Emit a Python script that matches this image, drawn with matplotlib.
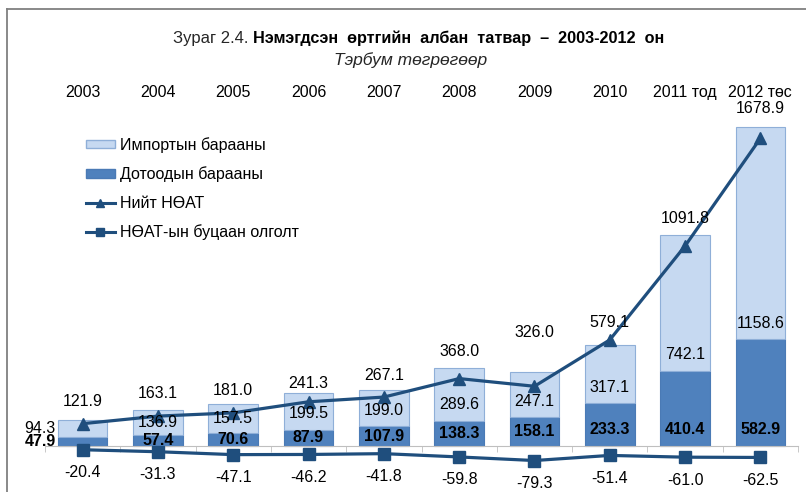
import numpy as np
import matplotlib.pyplot as plt
from matplotlib.patches import Patch
from matplotlib.lines import Line2D

plt.rcParams['font.family'] = ['Liberation Sans', 'DejaVu Sans']

years = ['2003', '2004', '2005', '2006', '2007', '2008', '2009', '2010', '2011 тод', '2012 төс']
domestic = [47.9, 57.4, 70.6, 87.9, 107.9, 138.3, 158.1, 233.3, 410.4, 582.9]
imports = [94.3, 136.9, 157.5, 199.5, 199.0, 289.6, 247.1, 317.1, 742.1, 1158.6]
total = [121.9, 163.1, 181.0, 241.3, 267.1, 368.0, 326.0, 579.1, 1091.8, 1678.9]
refund = [-20.4, -31.3, -47.1, -46.2, -41.8, -59.8, -79.3, -51.4, -61.0, -62.5]

c_light = '#C6D9F1'
c_light_edge = '#8FAFD8'
c_dark = '#4F81BD'
c_dark_edge = '#4A7AB5'
c_line = '#1F4E7D'
fs = 11.5

W, H = 806, 492
top_px = 108
fig = plt.figure(figsize=(W / 100, H / 100), dpi=100)
ax = fig.add_axes([45 / W, 0, 753 / W, (H - top_px) / H])
ppu = 0.1832  # pixels per data unit
ymin = -46 / ppu
ymax = ymin + (H - top_px) / ppu
ax.set_xlim(-0.5, 9.5)
ax.set_ylim(ymin, ymax)

x = np.arange(len(years))
bw = 0.66
dom = np.array(domestic)
imp = np.array(imports)
ax.bar(x, dom, bw, color=c_dark, edgecolor=c_dark_edge, linewidth=0.8, zorder=2)
ax.bar(x, imp, bw, bottom=dom, color=c_light, edgecolor=c_light_edge, linewidth=0.8, zorder=2)
ax.plot(x, total, color=c_line, lw=2.3, marker='^', ms=8, zorder=3)
ax.plot(x, refund, color=c_line, lw=2.3, marker='s', ms=8, zorder=3)

cap = 16 / ppu
for i in x:
    yd = min(dom[i] / 2, cap)
    yi = dom[i] + min(imp[i] / 2, cap)
    if i == 0:
        xl, ha = i - bw / 2 - 0.03, 'right'
    else:
        xl, ha = i, 'center'
    ax.text(xl, yd, f'{dom[i]:.1f}', ha=ha, va='center', fontsize=fs,
            fontweight='bold', zorder=4)
    ax.text(xl, yi, f'{imp[i]:.1f}', ha=ha, va='center', fontsize=fs, zorder=4)

tot_pad = [18, 17, 14, 10, 14, 16, 39, 23, 16, 18]
for i in x:
    ax.annotate(f'{total[i]:.1f}', (i, dom[i] + imp[i]), xytext=(0, tot_pad[i]),
                textcoords='offset pixels', ha='center', va='center', fontsize=fs)
    ax.annotate(f'{refund[i]:.1f}', (i, refund[i]), xytext=(0, -23),
                textcoords='offset pixels', ha='center', va='center', fontsize=fs)

for s in ['top', 'left', 'right']:
    ax.spines[s].set_visible(False)
ax.spines['bottom'].set_position(('data', 0))
ax.spines['bottom'].set_color('#BFBFBF')
ax.set_yticks([])
ax.set_xticks(x)
ax.set_xticklabels(years, fontsize=fs)
ax.set_xticks(np.arange(-0.5, 10, 1), minor=True)
ax.tick_params(axis='x', which='major', bottom=False, top=False,
               labelbottom=False, labeltop=True, pad=2)
ax.tick_params(axis='x', which='minor', bottom=True, direction='out',
               length=4.5, color='#BFBFBF')
ax.patch.set_alpha(0)

handles = [
    Patch(facecolor=c_light, edgecolor=c_light_edge),
    Patch(facecolor=c_dark, edgecolor=c_dark_edge),
    Line2D([], [], color=c_line, lw=2.2, marker='^', ms=6),
    Line2D([], [], color=c_line, lw=2.2, marker='s', ms=6),
]
labels = ['Импортын барааны', 'Дотоодын барааны', 'Нийт НӨАТ', 'НӨАТ-ын буцаан олголт']
fig.legend(handles, labels, loc='upper left', bbox_to_anchor=(86 / W, 1 - 137 / H),
           frameon=False, fontsize=fs, handlelength=1.8, handleheight=0.45,
           handletextpad=0.3, labelspacing=0.85, borderpad=0, borderaxespad=0)

fig.text(248 / W, 1 - 38 / H, 'Зураг 2.4.', ha='right', va='center', fontsize=12,
         color='#262626')
fig.text(253 / W, 1 - 38 / H, 'Нэмэгдсэн  өртгийн  албан  татвар  –  2003-2012  он',
         ha='left', va='center', fontsize=11.7, fontweight='bold')
fig.text(411 / W, 1 - 60 / H, 'Тэрбум төгрөгөөр', ha='center', va='center',
         fontsize=12.5, style='italic', color='#262626')

frame = '#808080'
fig.add_artist(Line2D([7 / W, 7 / W], [0, 1 - 9 / H], color=frame, lw=1.3))
fig.add_artist(Line2D([7 / W, 1], [1 - 9 / H, 1 - 9 / H], color=frame, lw=1.3))

fig.savefig('out.png', dpi=100)
